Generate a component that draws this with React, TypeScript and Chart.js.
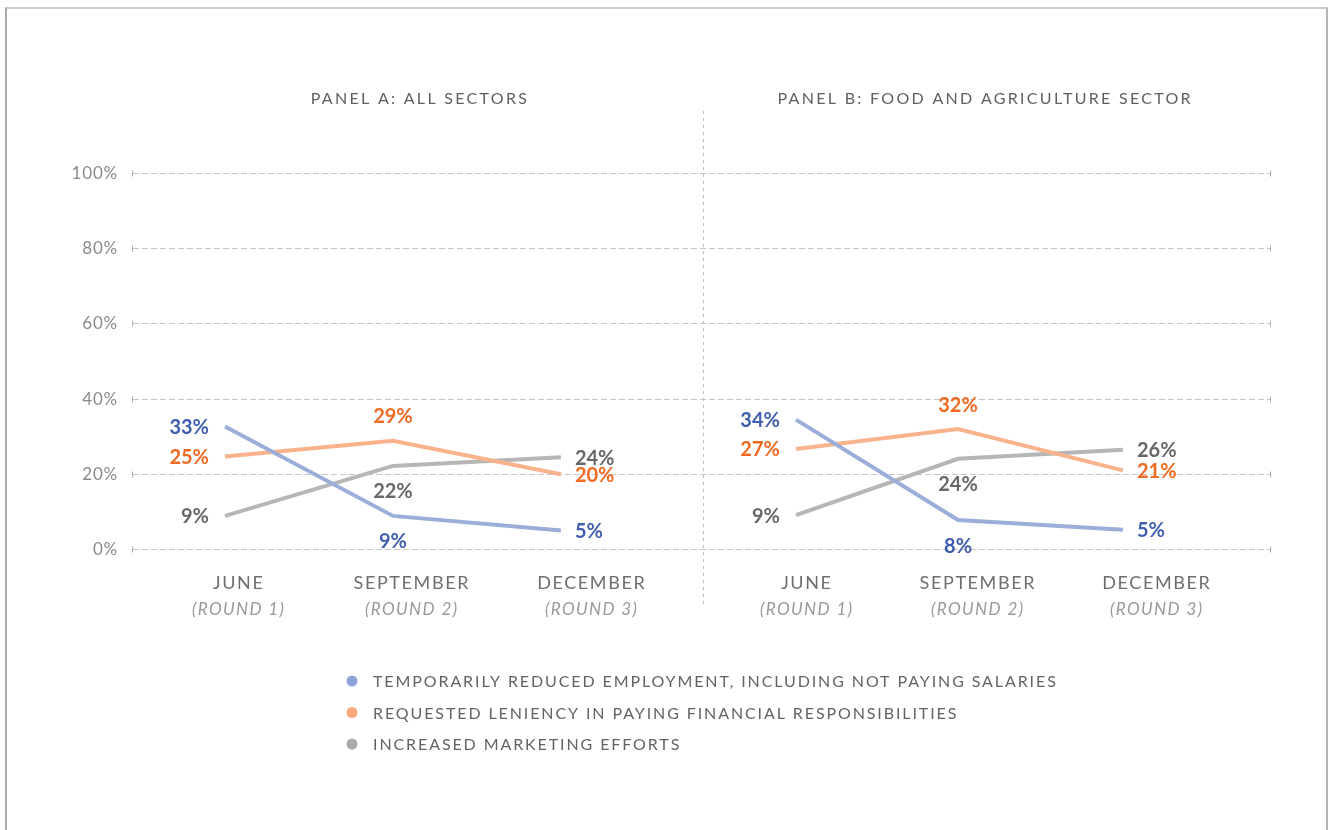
import { useEffect, useRef } from "react";
import { Chart, registerables } from "chart.js";

Chart.register(...registerables);

// ---------- data ----------
const PANEL_TITLES = ["PANEL A: ALL SECTORS", "PANEL B: FOOD AND AGRICULTURE SECTOR"];
const MONTHS = ["JUNE", "SEPTEMBER", "DECEMBER", "JUNE", "SEPTEMBER", "DECEMBER"];
const ROUNDS = ["(ROUND 1)", "(ROUND 2)", "(ROUND 3)", "(ROUND 1)", "(ROUND 2)", "(ROUND 3)"];
const Y_TICKS = [0, 20, 40, 60, 80, 100];
const SERIES_NAMES = [
  "TEMPORARILY REDUCED EMPLOYMENT, INCLUDING NOT PAYING SALARIES",
  "REQUESTED LENIENCY IN PAYING FINANCIAL RESPONSIBILITIES",
  "INCREASED MARKETING EFFORTS",
];
// Panel A (June, Sept, Dec) then Panel B (June, Sept, Dec)
const EMPLOYMENT = [32.6, 8.8, 4.9, 34.4, 7.7, 5.1];
const LENIENCY = [24.6, 28.8, 19.9, 26.6, 31.9, 20.9];
const MARKETING = [8.8, 22.1, 24.4, 9.0, 24.0, 26.4];

// ---------- layout / style ----------
const X_MAX = 6;
const POINT_X = [0.5, 1.384, 2.268, 3.505, 4.358, 5.226];
const LABEL_X = [0.568, 1.479, 2.426, 3.558, 4.458, 5.4];
const TITLE_X = [1.52, 4.495];
const DIVIDER_X = 3.016;
const LINE_COLORS = ["#9aaed9", "#f8b38d", "#b6b6b6"];
const TEXT_COLORS = ["#3f5eae", "#f06a22", "#686868"];
const LEGEND_DOT = ["#8ea3d6", "#f6a77c", "#a9a9a9"];
const LABEL_POS = [
  ["left", "below", "right", "left", "below", "right"],
  ["left", "above", "right", "left", "above", "right"],
  ["left", "below", "right", "left", "below", "right"],
];
const FONT = "Lato, 'Open Sans', sans-serif";

const SERIES = [EMPLOYMENT, LENIENCY, MARKETING];

function buildData(values: number[]) {
  const pts: { x: number; y: number | null }[] = [];
  values.forEach((v, i) => {
    if (i === 3) pts.push({ x: DIVIDER_X, y: null });
    pts.push({ x: POINT_X[i], y: v });
  });
  return pts;
}

function centeredText(ctx: any, text: string, x: number, y: number, spacing: number) {
  ctx.letterSpacing = `${spacing}px`;
  ctx.textAlign = "left";
  const w = ctx.measureText(text).width - spacing;
  ctx.fillText(text, x - w / 2, y);
  ctx.letterSpacing = "0px";
}

const decorPlugin = {
  id: "decor",
  beforeDatasetsDraw(chart: any) {
    const { ctx, chartArea } = chart;
    const xs = chart.scales.x;
    const ys = chart.scales.y;
    ctx.save();
    // grid lines
    Y_TICKS.forEach((t) => {
      const y = Math.round(ys.getPixelForValue(t)) + 0.5;
      ctx.strokeStyle = "#c6c6c6";
      ctx.lineWidth = 1;
      ctx.setLineDash([6, 3]);
      ctx.beginPath();
      ctx.moveTo(chartArea.left + 3, y);
      ctx.lineTo(chartArea.right, y);
      ctx.stroke();
      ctx.setLineDash([]);
      ctx.strokeStyle = "#b0b0b0";
      ctx.beginPath();
      ctx.moveTo(chartArea.left + 2.5, y - 3);
      ctx.lineTo(chartArea.left + 2.5, y + 3);
      ctx.moveTo(chartArea.right + 0.5, y - 3);
      ctx.lineTo(chartArea.right + 0.5, y + 3);
      ctx.stroke();
      // tick label
      ctx.fillStyle = "#8a8a8a";
      ctx.font = `17px ${FONT}`;
      ctx.textAlign = "right";
      ctx.textBaseline = "middle";
      (ctx as any).letterSpacing = "0.8px";
      ctx.fillText(`${t}%`, chartArea.left - 12, y);
      (ctx as any).letterSpacing = "0px";
    });
    // divider
    const dx = Math.round(xs.getPixelForValue(DIVIDER_X)) + 0.5;
    ctx.strokeStyle = "#bdbdbd";
    ctx.setLineDash([3, 4]);
    ctx.beginPath();
    ctx.moveTo(dx, chartArea.top - 62);
    ctx.lineTo(dx, chartArea.bottom + 59);
    ctx.stroke();
    ctx.setLineDash([]);
    // panel titles
    ctx.fillStyle = "#5f5f5f";
    ctx.font = `16px ${FONT}`;
    ctx.textBaseline = "middle";
    PANEL_TITLES.forEach((t, i) => {
      centeredText(ctx, t, xs.getPixelForValue(TITLE_X[i]), chartArea.top - 74, 2.3);
    });
    // x labels
    MONTHS.forEach((m, i) => {
      const x = xs.getPixelForValue(LABEL_X[i]);
      ctx.fillStyle = "#6e6e6e";
      ctx.font = `18px ${FONT}`;
      centeredText(ctx, m, x, chartArea.bottom + 34, 1.6);
      ctx.fillStyle = "#9a9a9a";
      ctx.font = `italic 17px ${FONT}`;
      centeredText(ctx, ROUNDS[i], x, chartArea.bottom + 61, 1.4);
    });
    // legend
    (ctx as any).letterSpacing = "1.9px";
    SERIES_NAMES.forEach((n, i) => {
      const y = chartArea.bottom + 132 + i * 31.5;
      ctx.fillStyle = LEGEND_DOT[i];
      ctx.beginPath();
      ctx.arc(352, y, 5.5, 0, Math.PI * 2);
      ctx.fill();
      ctx.fillStyle = "#636363";
      ctx.font = `16px ${FONT}`;
      ctx.textAlign = "left";
      ctx.fillText(n, 373, y + 1);
    });
    (ctx as any).letterSpacing = "0px";
    ctx.restore();
  },
  afterDatasetsDraw(chart: any) {
    const { ctx } = chart;
    ctx.save();
    ctx.font = `bold 20px ${FONT}`;
    ctx.textBaseline = "middle";
    SERIES.forEach((vals, s) => {
      const meta = chart.getDatasetMeta(s);
      let k = 0;
      meta.data.forEach((el: any, j: number) => {
        const raw = chart.data.datasets[s].data[j];
        if (raw.y === null) return;
        const pos = LABEL_POS[s][k];
        const text = `${Math.round(vals[k])}%`;
        k++;
        ctx.fillStyle = TEXT_COLORS[s];
        let x = el.x;
        let y = el.y;
        if (pos === "left") {
          ctx.textAlign = "right";
          x -= 16;
        } else if (pos === "right") {
          ctx.textAlign = "left";
          x += 14;
        } else if (pos === "above") {
          ctx.textAlign = "center";
          y -= 25;
        } else {
          ctx.textAlign = "center";
          y += 25;
        }
        ctx.fillText(text, x, y + 1);
      });
    });
    ctx.restore();
  },
};

export default function App() {
  const ref = useRef<HTMLCanvasElement>(null);
  useEffect(() => {
    const chart = new Chart(ref.current!, {
      type: "line",
      data: {
        datasets: SERIES.map((vals, i) => ({
          label: SERIES_NAMES[i],
          data: buildData(vals),
          borderColor: LINE_COLORS[i],
          backgroundColor: LINE_COLORS[i],
          borderWidth: 4,
          pointRadius: 0,
          tension: 0,
          spanGaps: false,
          borderCapStyle: "butt",
        })),
      },
      options: {
        animation: false,
        responsive: false,
        layout: { padding: { left: 130, right: 58, top: 173, bottom: 281 } },
        scales: {
          x: { type: "linear", min: 0, max: X_MAX, display: false },
          y: { min: 0, max: 100, display: false },
        },
        plugins: {
          legend: { display: false },
          tooltip: { enabled: false },
        },
      },
      plugins: [decorPlugin],
    } as any);
    return () => chart.destroy();
  }, []);
  return (
    <div style={{ position: "absolute", left: 0, top: 0, width: 1328, height: 830, background: "#fff", overflow: "hidden" }}>
      <div
        style={{
          position: "absolute",
          left: 5,
          top: 7,
          width: 1319,
          height: 840,
          borderTop: "2px solid #cdcdcd",
          borderLeft: "2px solid #a9a9a9",
          borderRight: "2px solid #b5b5b5",
        }}
      />
      <canvas ref={ref} width={1328} height={830} style={{ position: "absolute", left: 0, top: 0 }} />
    </div>
  );
}
